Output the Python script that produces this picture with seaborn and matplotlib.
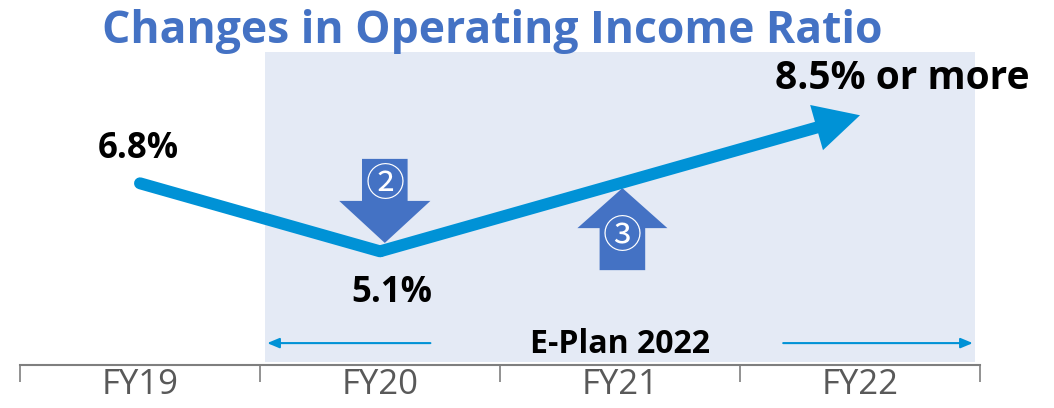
import numpy as np
import pandas as pd
import matplotlib
matplotlib.use("Agg")
import matplotlib.pyplot as plt
import seaborn as sns
from matplotlib.patches import FancyArrowPatch, FancyArrow

# --- data ---
years = ["FY19", "FY20", "FY21", "FY22"]
ratio_years = ["FY19", "FY20", "FY22"]
ratio_values = [6.8, 5.1, 8.5]
ratio_labels = ["6.8%", "5.1%", "8.5% or more"]
plan_label = "E-Plan 2022"
title = "Changes in Operating Income Ratio"

# --- colours ---
LINE_BLUE = "#0092D6"
BLOCK_BLUE = "#4472C4"
SHADE = "#E4EAF5"
GRAY = "#7F7F7F"

sns.set_theme(style="white")
plt.rcParams["font.family"] = ["Open Sans", "DejaVu Sans"]

fig = plt.figure(figsize=(10.54, 4.08), dpi=100)
ax = fig.add_axes([20 / 1054, 43 / 408, 960 / 1054, 365 / 408])
ax.set_facecolor("none")

xpos = {y: i for i, y in enumerate(years)}
df = pd.DataFrame({"year": ratio_years, "value": ratio_values})
df["x"] = df["year"].map(xpos)

ax.set_xlim(-0.5, len(years) - 0.5)
ax.set_ylim(2.26, 11.38)

# shaded plan period
ax.axvspan(0.52, 3.48, ymin=0.008, ymax=0.857, color=SHADE, lw=0, zorder=0)

# line FY19 -> FY20
sns.lineplot(data=df.iloc[:2], x="x", y="value", ax=ax, color=LINE_BLUE,
             lw=8.6, solid_capstyle="round", zorder=3)
# FY20 -> FY22 with arrow head
arr = FancyArrowPatch((df["x"][1], df["value"][1]), (df["x"][2], df["value"][2]),
                      arrowstyle="simple,head_length=1.25,head_width=1.3,tail_width=0.33",
                      mutation_scale=26, color=LINE_BLUE, lw=0, zorder=3,
                      shrinkA=0, shrinkB=0)
ax.add_patch(arr)

# value labels
offsets = [(-2, 34), (12, -42), (42, 37)]
sizes = [25, 25, 28]
for (xv, yv), lab, off, fs in zip(zip(df["x"], df["value"]), ratio_labels, offsets, sizes):
    ax.annotate(lab, (xv, yv), xytext=off, textcoords="offset pixels",
                ha="center", va="center", fontsize=fs, fontweight="bold",
                color="black", zorder=5)

# block arrows (decrease at FY20, increase at FY21)
down = FancyArrow(1.02, 7.41, 0, -2.1, width=0.19, head_width=0.38,
                  head_length=1.05, length_includes_head=True,
                  color=BLOCK_BLUE, lw=0, zorder=4)
up = FancyArrow(2.01, 4.63, 0, 2.05, width=0.19, head_width=0.375,
                head_length=1.0, length_includes_head=True,
                color=BLOCK_BLUE, lw=0, zorder=2)
ax.add_patch(down)
ax.add_patch(up)
cjk = ["Noto Sans CJK JP", "DejaVu Sans"]
ax.text(1.02, 6.8 + (183.3 - 185) / 40, "②", ha="center", va="center",
        fontsize=28, color="white", family=cjk, zorder=5)
ax.text(2.01, 6.8 - (237 - 183.3) / 40, "③", ha="center", va="center",
        fontsize=28, color="white", family=cjk, zorder=5)

# plan period label with arrows
tr = ax.get_xaxis_transform()
ax.text(2.0, 0.055, plan_label, transform=tr, ha="center", va="center",
        fontsize=23, fontweight="bold", color="black", zorder=5)
for start, end in [(1.21, 0.53), (2.68, 3.47)]:
    ax.annotate("", xy=(end, 0.06), xytext=(start, 0.06), xycoords=tr,
                textcoords=tr,
                arrowprops=dict(arrowstyle="-|>,head_length=0.6,head_width=0.25",
                                color=LINE_BLUE, lw=1.5, shrinkA=0, shrinkB=0))

# x axis as a segmented baseline
ax.set_xticks(range(len(years)))
ax.set_xticklabels(years, fontsize=25, color="#595959", family=["Open Sans", "DejaVu Sans"])
ax.set_xticks(np.arange(-0.5, len(years), 1.0), minor=True)
ax.tick_params(axis="x", which="major", length=0, pad=2)
ax.tick_params(axis="x", which="minor", length=12, width=1.2, color=GRAY,
               direction="out", bottom=True)
ax.set_yticks([])
ax.set_xlabel("")
ax.set_ylabel("")
for s in ["top", "left", "right"]:
    ax.spines[s].set_visible(False)
ax.spines["bottom"].set_color(GRAY)
ax.spines["bottom"].set_linewidth(1.5)

fig.text(492 / 1054, (408 - 43) / 408, title, ha="center", va="baseline",
         fontsize=32, fontweight="bold", color=BLOCK_BLUE)

fig.savefig("out.png", dpi=100)
